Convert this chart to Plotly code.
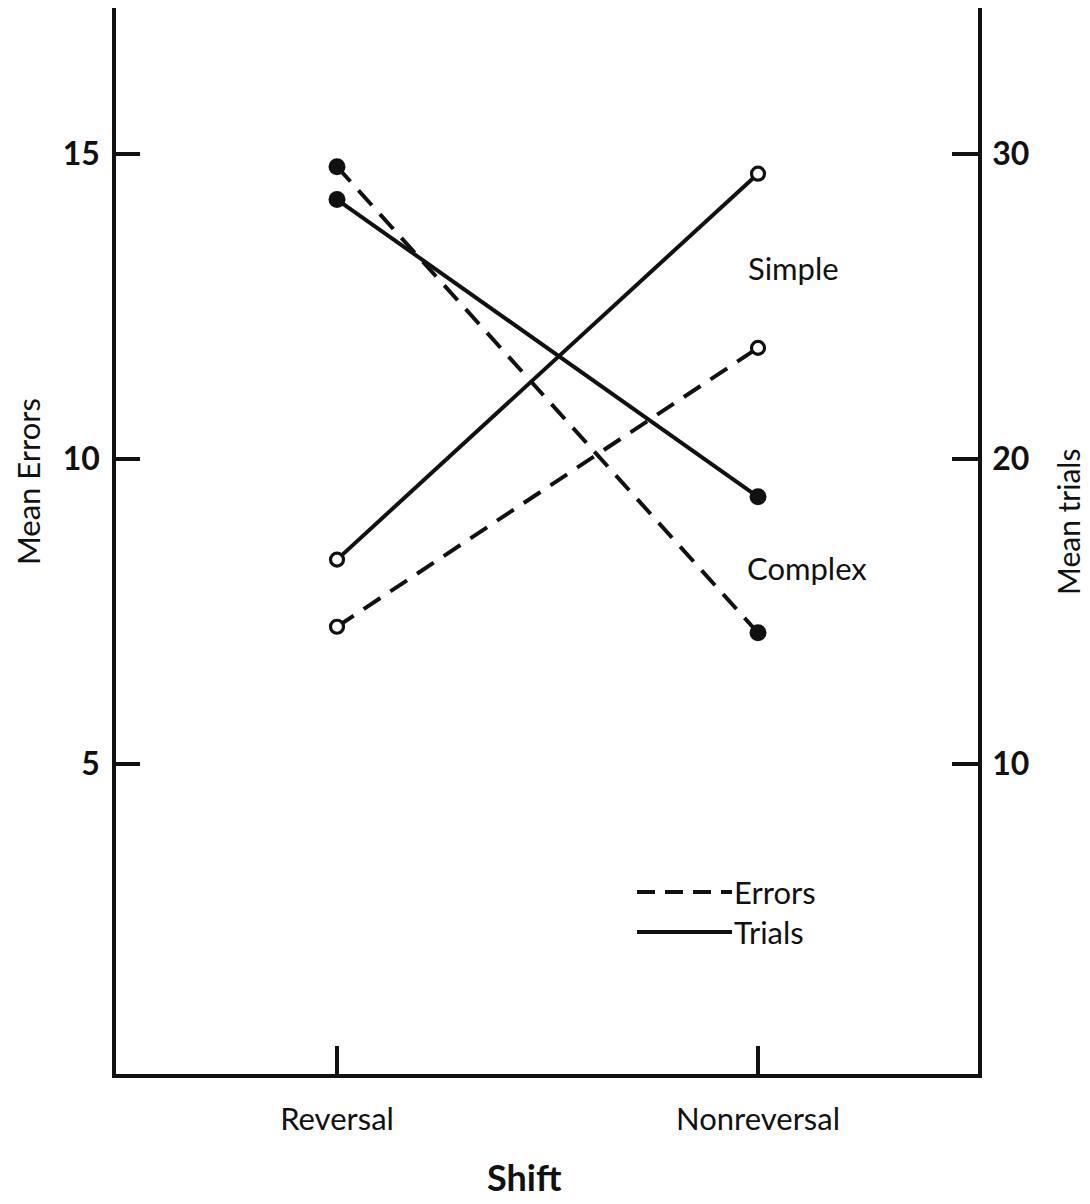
import plotly.graph_objects as go

# ---- data ----
shift_categories = ["Reversal", "Nonreversal"]
errors_simple = [7.25, 11.82]
errors_complex = [14.79, 7.15]
trials_simple = [16.7, 29.35]
trials_complex = [28.5, 18.76]
errors_ticks = [5, 10, 15]
trials_ticks = [10, 20, 30]

FONT = "Lato"
INK = "#111111"

W, H = 1090, 1204
L = 116
R = W - 978
T = 8
B = H - 1074
plot_w = W - L - R
plot_h = H - T - B


def px(xp):
    return (xp - L) / plot_w


def py(yp):
    return (H - B - yp) / plot_h


DASH = "20px,12px"
LW = 4

fig = go.Figure()

fig.add_trace(go.Scatter(
    x=shift_categories, y=errors_simple, name="Errors, Simple",
    mode="lines+markers", yaxis="y",
    line=dict(color=INK, width=LW, dash=DASH),
    marker=dict(symbol="circle", size=13, color="white", line=dict(color=INK, width=3.2)),
))
fig.add_trace(go.Scatter(
    x=shift_categories, y=errors_complex, name="Errors, Complex",
    mode="lines+markers", yaxis="y",
    line=dict(color=INK, width=LW, dash=DASH),
    marker=dict(symbol="circle", size=17, color=INK, line=dict(color=INK, width=0)),
))
fig.add_trace(go.Scatter(
    x=shift_categories, y=trials_simple, name="Trials, Simple",
    mode="lines+markers", yaxis="y2",
    line=dict(color=INK, width=LW),
    marker=dict(symbol="circle", size=13, color="white", line=dict(color=INK, width=3.2)),
))
fig.add_trace(go.Scatter(
    x=shift_categories, y=trials_complex, name="Trials, Complex",
    mode="lines+markers", yaxis="y2",
    line=dict(color=INK, width=LW),
    marker=dict(symbol="circle", size=17, color=INK, line=dict(color=INK, width=0)),
))

fig.update_layout(
    width=W, height=H,
    margin=dict(l=L, r=R, t=T, b=B, pad=0),
    paper_bgcolor="white", plot_bgcolor="white",
    showlegend=False,
    font=dict(family=FONT, color=INK, size=31),
    xaxis=dict(
        type="category", categoryorder="array", categoryarray=shift_categories,
        range=[-0.525, 1.5226],
        showline=True, linecolor=INK, linewidth=3.5,
        ticks="inside", ticklen=28, tickwidth=3.5, tickcolor=INK,
        showgrid=False, zeroline=False,
        tickfont=dict(family=FONT, size=31, color=INK),
        ticklabelstandoff=15,
    ),
    yaxis=dict(
        range=[-0.08, 17.39],
        tickvals=errors_ticks, ticktext=[str(v) for v in errors_ticks],
        showline=True, linecolor=INK, linewidth=3.5,
        ticks="inside", ticklen=24, tickwidth=4, tickcolor=INK,
        showgrid=False, zeroline=False,
        tickfont=dict(family=FONT, size=32, color=INK, weight="bold"),
        ticklabelstandoff=6,
    ),
    yaxis2=dict(
        range=[-0.16, 34.78],
        overlaying="y", side="right",
        tickvals=trials_ticks, ticktext=[str(v) for v in trials_ticks],
        showline=True, linecolor=INK, linewidth=3.5,
        ticks="inside", ticklen=26, tickwidth=4, tickcolor=INK,
        showgrid=False, zeroline=False,
        tickfont=dict(family=FONT, size=32, color=INK, weight="bold"),
        ticklabelstandoff=4,
    ),
)

ann = [
    dict(text="Mean Errors", x=px(28), y=py(482), textangle=-90, size=31),
    dict(text="Mean trials", x=px(1068), y=py(522), textangle=-90, size=30),
    dict(text="<b>Shift</b>", x=px(524), y=py(1177), size=36),
    dict(text="Simple", x=px(793), y=py(268), size=31),
    dict(text="Complex", x=px(807), y=py(568), size=31),
    dict(text="Errors", x=px(732), y=py(892), xanchor="left", size=31),
    dict(text="Trials", x=px(732), y=py(932), xanchor="left", size=31),
]
for a in ann:
    size = a.pop("size")
    a.setdefault("xanchor", "center")
    fig.add_annotation(xref="paper", yref="paper", showarrow=False, yanchor="middle",
                       font=dict(family=FONT, color=INK, size=size), **a)

# legend key lines
fig.add_shape(type="line", xref="paper", yref="paper", x0=px(637), x1=px(732), y0=py(892), y1=py(892),
              line=dict(color=INK, width=LW, dash="18px,10px"))
fig.add_shape(type="line", xref="paper", yref="paper", x0=px(637), x1=px(732), y0=py(932), y1=py(932),
              line=dict(color=INK, width=LW))

fig.write_html(
    "out.html",
    config={"displayModeBar": False},
    post_script="document.body.style.margin='0';document.body.style.overflow='hidden';",
)
